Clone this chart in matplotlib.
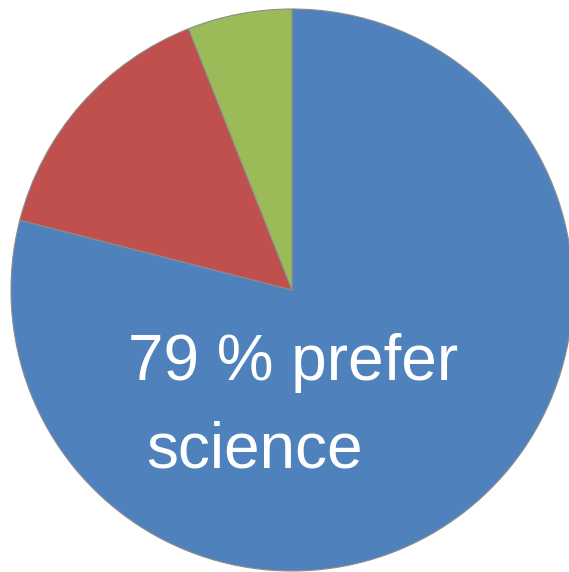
import matplotlib
matplotlib.use("Agg")
from matplotlib import pyplot as plt

# share of answers
labels = ["science", "other", "undecided"]
shares = [79, 15, 6]
colors = ["#4F81BD", "#C0504D", "#9BBB59"]

line1 = "79 % prefer"
line2 = "science"

W, H = 569, 572
fig = plt.figure(figsize=(W / 100, H / 100), dpi=100)
ax = fig.add_axes([0, 0, 1, 1])
ax.set_xlim(0, W)
ax.set_ylim(0, H)
ax.set_aspect("equal")
ax.axis("off")

ax.pie(shares, colors=colors, startangle=90, counterclock=False,
       center=(292, H - 290), radius=281,
       wedgeprops=dict(edgecolor="#8c8c8c", linewidth=0.8))
ax.set_xlim(0, W)
ax.set_ylim(0, H)

ax.text(128, H - 380, line1, color="white", fontsize=46,
        family="Liberation Sans", va="baseline", ha="left")
ax.text(146, H - 467, line2, color="white", fontsize=46,
        family="Liberation Sans", va="baseline", ha="left")

fig.savefig("out.png", dpi=100)
